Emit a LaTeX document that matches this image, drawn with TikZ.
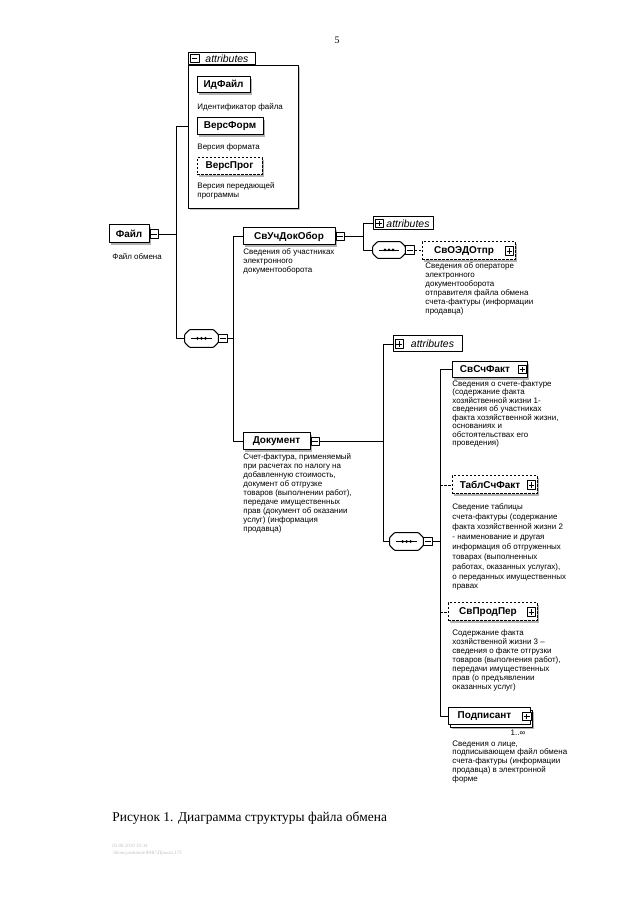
\documentclass[tikz,border=0pt]{standalone}
\usepackage{fontspec}
\setmainfont{Liberation Serif}
\setsansfont{Liberation Sans}
\usepackage{tikz}
\usetikzlibrary{calc}
\usetikzlibrary{shapes}
\usetikzlibrary{shadows}

\tikzset{
  elembase/.style={draw, fill=white, inner sep=0bp, minimum height=17bp, line width=1bp,
    font=\sffamily\bfseries\fontsize{10}{11}\selectfont},
  elem/.style={elembase, drop shadow={shadow xshift=2.2bp, shadow yshift=-2.2bp, fill=gray!60, opacity=1}},
  optelem/.style={elem, dash pattern=on 2.5bp off 1.5bp},
  multielem/.style={elembase,
    drop shadow={shadow xshift=4bp, shadow yshift=-4bp, fill=gray!60, opacity=1},
    copy shadow={shadow xshift=2.2bp, shadow yshift=-2.2bp}},
  desc/.style={anchor=north west, inner sep=0bp, align=left,
    font=\sffamily\fontsize{8}{9}\selectfont},
  signbox/.style={draw, fill=white, inner sep=0bp, minimum size=8.5bp, line width=0.8bp},
  minussign/.style={signbox, path picture={
    \draw ([xshift=1.5bp]path picture bounding box.west) -- ([xshift=-1.5bp]path picture bounding box.east);}},
  plussign/.style={signbox, path picture={
    \draw ([xshift=1.5bp]path picture bounding box.west) -- ([xshift=-1.5bp]path picture bounding box.east);
    \draw ([yshift=1.5bp]path picture bounding box.south) -- ([yshift=-1.5bp]path picture bounding box.north);}},
  seqbox/.style={rectangle, minimum width=33bp, minimum height=17bp, inner sep=0bp,
    append after command={\pgfextra{
      \fill[gray!60, shift={(2.2bp,-2.2bp)}] ([xshift=5bp]\tikzlastnode.north west) -- ([xshift=-5bp]\tikzlastnode.north east)
        -- ([yshift=-5bp]\tikzlastnode.north east) -- ([yshift=5bp]\tikzlastnode.south east)
        -- ([xshift=-5bp]\tikzlastnode.south east) -- ([xshift=5bp]\tikzlastnode.south west)
        -- ([yshift=5bp]\tikzlastnode.south west) -- ([yshift=-5bp]\tikzlastnode.north west) -- cycle;
      \draw[fill=white, line width=1bp, rounded corners=1bp] ([xshift=5bp]\tikzlastnode.north west) -- ([xshift=-5bp]\tikzlastnode.north east)
        -- ([yshift=-5bp]\tikzlastnode.north east) -- ([yshift=5bp]\tikzlastnode.south east)
        -- ([xshift=-5bp]\tikzlastnode.south east) -- ([xshift=5bp]\tikzlastnode.south west)
        -- ([yshift=5bp]\tikzlastnode.south west) -- ([yshift=-5bp]\tikzlastnode.north west) -- cycle;
      \draw ([xshift=6bp]\tikzlastnode.west) -- ([xshift=-6bp]\tikzlastnode.east);
      \fill ([xshift=-4bp]\tikzlastnode.center) circle (1.5bp);
      \fill (\tikzlastnode.center) circle (1.5bp);
      \fill ([xshift=4bp]\tikzlastnode.center) circle (1.5bp);}}},
  attrbox/.style={draw, fill=white, inner sep=0bp, minimum height=14bp, line width=1bp,
    font=\sffamily\itshape\fontsize{10.5}{11}\selectfont},
  grpbox/.style={draw, fill=white, inner sep=0bp, anchor=north west, line width=0.9bp,
    drop shadow={shadow xshift=2bp, shadow yshift=-2bp, fill=gray!45, opacity=1}},
  tabbox/.style={draw, fill=white, inner sep=0bp, anchor=south west, minimum height=12bp, line width=0.9bp,
    font=\sffamily\itshape\fontsize{10.5}{11}\selectfont},
  optwire/.style={dash pattern=on 2.5bp off 1.5bp},
}

\begin{document}
\begin{tikzpicture}[line join=bevel]
    \pgfsetlinewidth{0.9bp}
    \useasboundingbox (0bp,0bp) rectangle (640bp,905bp);
    %%
    \node (pagenum) at (337bp,865bp) {\fontsize{10}{12}\selectfont 5};
    %%
    \begin{scope}
        % Group: attributes of Файл
        \node[grpbox, minimum width=110bp, minimum height=143bp] (fileattrs) at (188bp,840bp) {};
        \node[tabbox, minimum width=67bp] (fileattrtab) at (188bp,840bp) {\hspace*{10bp}attributes};
        \node[minussign, anchor=west] (fileattrminus) at ([xshift=2bp]fileattrtab.west) {};
        % Node: ИдФайл
        \node[elem, minimum width=53bp, minimum height=16bp] (idfile) at (223.5bp,820bp) {ИдФайл};
        \node[desc] (idfiledesc) at (197bp,802bp) {Идентификатор файла};
        % Node: ВерсФорм
        \node[elem, minimum width=66bp] (versform) at (230bp,778.5bp) {ВерсФорм};
        \node[desc] (versformdesc) at (197bp,762bp) {Версия формата};
        % Node: ВерсПрог
        \node[optelem, minimum width=65bp] (versprog) at (229.5bp,738.5bp) {ВерсПрог};
        \node[desc] (versprogdesc) at (197bp,723bp) {Версия передающей\\программы};
    \end{scope}
    % Node: Файл
    \node[elem, minimum width=40bp, minimum height=18bp] (file) at (129bp,671bp) {Файл};
    \node[minussign, anchor=west] (fileminus) at (file.east) {};
    \node[desc] (filedesc) at (112bp,652bp) {Файл обмена};
    \coordinate (filebus) at (176bp,0bp);
    \node[seqbox] (fileseq) at (201.5bp,566.5bp) {};
    \node[minussign, anchor=west] (fileseqminus) at (fileseq.east) {};
    % Edge: Файл -> attributes, sequence
    \draw (fileminus.east) -- (fileminus.east -| filebus);
    \draw (fileattrs.west |- versform) -- (filebus |- versform) -- (filebus |- fileseq) -- (fileseq.west);
    %%
    % Node: СвУчДокОбор
    \node[elem, minimum width=92bp] (svuch) at (289bp,668.5bp) {СвУчДокОбор};
    \node[minussign, anchor=west] (svuchminus) at (svuch.east) {};
    \node[desc] (svuchdesc) at (243bp,657bp) {Сведения об участниках\\электронного\\документооборота};
    \node[attrbox, minimum width=60bp, minimum height=13bp] (svuchattr) at (403bp,681.5bp) {\hspace*{10bp}attributes};
    \node[plussign, anchor=west] (svuchattrplus) at ([xshift=2bp]svuchattr.west) {};
    \node[seqbox, minimum width=32bp, minimum height=16bp] (svuchseq) at (389bp,655bp) {};
    \node[minussign, anchor=west] (svuchseqminus) at (svuchseq.east) {};
    % Node: СвОЭДОтпр
    \node[optelem, minimum width=93bp, minimum height=18bp] (svoedo) at (468.5bp,654bp) {СвОЭДОтпр\hspace*{9bp}};
    \node[plussign, anchor=east] (svoedoplus) at ([xshift=-1.5bp]svoedo.east) {};
    \node[desc] (svoedodesc) at (425bp,643bp) {Сведения об операторе\\электронного\\документооборота\\отправителя файла обмена\\счета-фактуры (информации\\продавца)};
    \coordinate (svuchbus) at (363bp,0bp);
    % Edge: СвУчДокОбор -> attributes, СвОЭДОтпр
    \draw (svuchminus.east) -- (svuchminus.east -| svuchbus);
    \draw (svuchattr.west) -- (svuchattr.west -| svuchbus) -- (svuchseq.west -| svuchbus) -- (svuchseq.west);
    \draw[optwire] (svuchseqminus.east) -- (svuchseqminus.east -| svoedo.west);
    %%
    % Node: Документ
    \node[elem, minimum width=67bp] (doc) at (276.5bp,463.5bp) {Документ};
    \node[minussign, anchor=west] (docminus) at (doc.east) {};
    \node[desc] (docdesc) at (243bp,452bp) {Счет-фактура, применяемый\\при расчетах по налогу на\\добавленную стоимость,\\документ об отгрузке\\товаров (выполнении работ),\\передаче имущественных\\прав (документ об оказании\\услуг) (информация\\продавца)};
    \coordinate (seqbus) at (233bp,0bp);
    % Edge: sequence -> СвУчДокОбор, Документ
    \draw (fileseqminus.east) -- (fileseqminus.east -| seqbus);
    \draw (svuch.west) -- (svuch.west -| seqbus) -- (doc.west -| seqbus) -- (doc.west);
    \node[attrbox, minimum width=69bp, minimum height=16bp] (docattr) at (427.5bp,561bp) {\hspace*{10bp}attributes};
    \node[plussign, anchor=west] (docattrplus) at ([xshift=2bp]docattr.west) {};
    \node[seqbox] (docseq) at (406.5bp,363.5bp) {};
    \node[minussign, anchor=west] (docseqminus) at (docseq.east) {};
    % Node: СвСчФакт
    \node[elem, minimum width=75bp, minimum height=16bp] (svschf) at (489.5bp,535.5bp) {СвСчФакт\hspace*{9bp}};
    \node[plussign, anchor=east] (svschfplus) at ([xshift=-0.5bp]svschf.east) {};
    \node[desc, font=\sffamily\fontsize{8}{8.5}\selectfont] (svschfdesc) at (452bp,525bp) {Сведения о счете-фактуре\\(содержание факта\\хозяйственной жизни 1-\\сведения об участниках\\факта хозяйственной жизни,\\основаниях и\\обстоятельствах его\\проведения)};
    % Node: ТаблСчФакт
    \node[optelem, minimum width=85bp, minimum height=18bp] (tablschf) at (494.5bp,420bp) {ТаблСчФакт\hspace*{9bp}};
    \node[plussign, anchor=east] (tablschfplus) at ([xshift=-1.5bp]tablschf.east) {};
    \node[desc, font=\sffamily\fontsize{8}{10}\selectfont] (tablschfdesc) at (452bp,402bp) {Сведение таблицы\\счета-фактуры (содержание\\факта хозяйственной жизни 2\\- наименование и другая\\информация об отгруженных\\товарах (выполненных\\работах, оказанных услугах),\\о переданных имущественных\\правах};
    % Node: СвПродПер
    \node[optelem, minimum width=89bp, minimum height=18bp] (svprod) at (492.5bp,293bp) {СвПродПер\hspace*{9bp}};
    \node[plussign, anchor=east] (svprodplus) at ([xshift=-1.5bp]svprod.east) {};
    \node[desc] (svproddesc) at (452bp,276bp) {Содержание факта\\хозяйственной жизни 3 –\\сведения о факте отгрузки\\товаров (выполнения работ),\\передачи имущественных\\прав (о предъявлении\\оказанных услуг)};
    % Node: Подписант
    \node[multielem, minimum width=82bp] (signer) at (489bp,188.5bp) {Подписант\hspace*{9bp}};
    \node[plussign, anchor=east] (signerplus) at ([xshift=1bp]signer.east) {};
    \node[font=\sffamily\fontsize{8}{9}\selectfont, inner sep=0bp] (signercard) at (518bp,172bp) {1..∞};
    \node[desc] (signerdesc) at (452bp,165bp) {Сведения о лице,\\подписывающем файл обмена\\счета-фактуры (информации\\продавца) в электронной\\форме};
    \coordinate (docbus) at (383bp,0bp);
    \coordinate (partbus) at (440bp,0bp);
    % Edge: Документ -> attributes, sequence
    \draw (docminus.east) -- (docminus.east -| docbus);
    \draw (docattr.west) -- (docattr.west -| docbus) -- (docseq.west -| docbus) -- (docseq.west);
    % Edge: sequence -> СвСчФакт, ТаблСчФакт, СвПродПер, Подписант
    \draw (docseqminus.east) -- (docseqminus.east -| partbus);
    \draw (svschf.west) -- (svschf.west -| partbus) -- (signer.west -| partbus) -- (signer.west);
    \draw[optwire] (tablschf.west -| partbus) -- (tablschf.west);
    \draw[optwire] (svprod.west -| partbus) -- (svprod.west);
    %%
    \node[anchor=west, inner sep=0bp, font=\fontsize{13.5}{16}\selectfont] (caption) at (112bp,87bp) {Рисунок 1. Диаграмма структуры файла обмена};
    \node[desc, font=\itshape\fontsize{5}{6.5}\selectfont, text=gray!50] (stamp) at (112bp,61bp) {03.08.2010 10:34\\\textbackslash\textbackslash Консультант\textbackslash ФНС\textbackslash Приказ.175};
    %
\end{tikzpicture}
\end{document}
